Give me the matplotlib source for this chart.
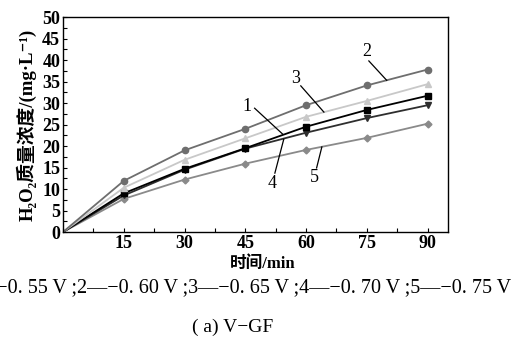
import matplotlib
matplotlib.use("Agg")
import matplotlib.pyplot as plt
from matplotlib.ticker import MultipleLocator

time = [0, 15, 30, 45, 60, 75, 90]
s1 = [0, 9.0, 14.7, 19.5, 24.5, 28.4, 31.7]
s2 = [0, 11.9, 19.0, 24.0, 29.5, 34.1, 37.8]
s3 = [0, 10.3, 16.8, 21.8, 26.8, 30.5, 34.4]
s4 = [0, 8.5, 14.5, 19.4, 23.1, 26.5, 29.5]
s5 = [0, 7.7, 12.2, 15.9, 19.1, 21.9, 25.2]
series = [s1, s2, s3, s4, s5]
labels = ["1", "2", "3", "4", "5"]
xticks = [15, 30, 45, 60, 75, 90]
yticks = [0, 5, 10, 15, 20, 25, 30, 35, 40, 45, 50]

colors = ["#000000", "#6e6e6e", "#c8c8c8", "#2e2e2e", "#8a8a8a"]
markers = ["s", "o", "^", "v", "D"]
msizes = [4, 4.5, 4.5, 4.5, 3.5]
order = [4, 3, 0, 2, 1]

fam = ["Liberation Serif", "Noto Sans CJK SC", "DejaVu Sans"]
plt.rcParams["font.family"] = fam

fig = plt.figure(figsize=(5.13, 3.42), dpi=100)
ax = fig.add_axes([0.1228, 0.3216, 0.873 - 0.1228, 0.950 - 0.3216])
for i in order:
    ax.plot(time, series[i], color=colors[i], marker=markers[i], ms=msizes[i],
            lw=1.3, markevery=list(range(1, 7)))

ax.set_xlim(0, 95)
ax.set_ylim(0, 50)
ax.set_xticks(xticks)
ax.set_yticks(yticks)
ax.xaxis.set_minor_locator(MultipleLocator(7.5))
ax.yaxis.set_minor_locator(MultipleLocator(2.5))
ax.tick_params(which="both", direction="in", top=False, right=False)
ax.tick_params(which="major", length=3, width=0.8, pad=2, labelsize=13)
ax.tick_params(which="minor", length=3, width=0.8)
for lab in ax.get_xticklabels() + ax.get_yticklabels():
    lab.set_fontweight("bold")
for sp in ax.spines.values():
    sp.set_linewidth(1.0)

ax.set_ylabel("H₂O₂质量浓度/(mg·L⁻¹)", fontsize=13.5, fontweight="bold", labelpad=4)
ax.set_xlabel("时间/min", fontsize=12, fontweight="bold", labelpad=3)
ax.xaxis.set_label_coords((263 - 63) / 385, -0.11)

ann = [
    ("1", (45.4, 29.3), (47.3, 28.8), (54.2, 22.8)),
    ("2", (75.0, 41.9), (75.5, 39.8), (79.9, 35.3)),
    ("3", (57.5, 35.8), (58.7, 34.0), (64.4, 27.9)),
    ("4", (51.5, 11.4), (52.3, 13.7), (54.5, 21.6)),
    ("5", (62.1, 12.6), (62.6, 14.9), (63.9, 19.8)),
]
for t, tp, a, b in ann:
    ax.text(tp[0], tp[1], t, fontsize=13, ha="center", va="center")
    ax.plot([a[0], b[0]], [a[1], b[1]], color="black", lw=0.9)

fig.text(511 / 513, 1 - 288 / 342,
         "1—−0. 55 V ;2—−0. 60 V ;3—−0. 65 V ;4—−0. 70 V ;5—−0. 75 V",
         ha="right", va="center", fontsize=14.5)
fig.text(233 / 513, 1 - 327 / 342, "( a) V−GF", ha="center", va="center", fontsize=14)

fig.savefig("out.png", dpi=100)
